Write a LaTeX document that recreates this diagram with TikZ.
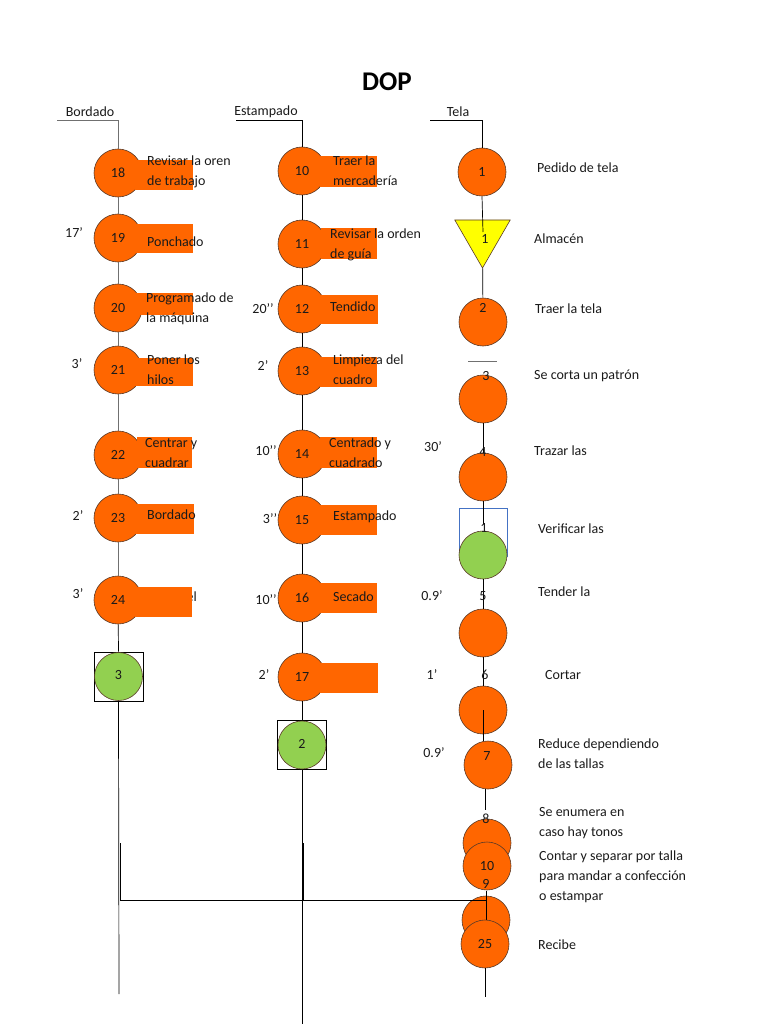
\documentclass[tikz,border=0pt]{standalone}
\usepackage{fontspec}
\setmainfont{Carlito}
\usetikzlibrary{shapes.geometric}
\definecolor{opfill}{HTML}{FF6600}
\definecolor{opline}{HTML}{5A3A28}
\definecolor{inspfill}{HTML}{92D050}
\definecolor{storefill}{HTML}{FFFF00}
\definecolor{boxblue}{HTML}{4472C4}
\definecolor{lgray}{HTML}{707070}
\definecolor{txt}{HTML}{1A1A1A}
\begin{document}
\begin{tikzpicture}[x=1pt,y=-1pt,
  op/.style={circle,draw=opline,fill=opfill,line width=0.6pt,minimum size=48pt,inner sep=0pt,text=txt,font=\fontsize{14}{16}\selectfont},
  insp/.style={op,fill=inspfill},
  sqbox/.style={rectangle,draw=black,line width=0.6pt,minimum size=49pt,inner sep=0pt},
  store/.style={regular polygon,regular polygon sides=3,shape border rotate=180,draw=opline,fill=storefill,line width=0.6pt,minimum size=64pt,inner sep=0pt},
  lbl/.style={anchor=west,align=left,inner sep=0pt,text=txt,font=\fontsize{14}{20}\selectfont},
  num/.style={inner sep=0pt,text=txt,font=\fontsize{14}{16}\selectfont},
  tm/.style={inner sep=0pt,text=txt,font=\fontsize{14}{16}\selectfont},
  hdr/.style={inner sep=0pt,text=txt,font=\fontsize{14}{16}\selectfont},
  bar/.style={fill=opfill},
  conn/.style={draw=black,line width=0.7pt},
  gconn/.style={draw=lgray,line width=0.7pt}]
\useasboundingbox (0,0) rectangle (768,1024);

% title
\node[font=\bfseries\fontsize{27}{32}\selectfont,text=black] (title) at (387,82) {DOP};

% headers
\node[hdr] (hb) at (90,112) {Bordado};
\node[hdr] (he) at (266,112) {Estampado};
\node[hdr] (ht) at (458,112) {Tela};
\coordinate (hbl) at (57,120);
\coordinate (hel) at (236,120);
\coordinate (htl) at (430,120);

% ---------------- Bordado ----------------
\node[op] (b18) at (118,173) {18};
\node[op] (b19) at (118,238) {19};
\node[op] (b20) at (118,308) {20};
\node[op] (b21) at (118,370) {21};
\node[op] (b22) at (118,455) {22};
\node[op] (b23) at (118,518) {23};
\node[op] (b24) at (118,600) {24};
\node[sqbox] (b3box) at (118.5,676.5) {};
\node[insp] (b3) at (118.5,676.5) {\raisebox{4pt}{3}};

\draw[gconn] (hbl) -| (b18.north);
\draw[gconn] (b18) -- (b19);
\draw[gconn] (b19) -- (b20);
\draw[gconn] (b20) -- (b21);
\draw[gconn] (b21) -- (b22);
\draw[gconn] (b22) -- (b23);
\draw[gconn] (b23) -- (b24);
\draw[conn] (b24) -- (b3box.north);

\node[lbl,anchor=east] (b24txt) at (197,597) {el};

\fill[bar] (135,160) rectangle (193,190);
\fill[bar] (135,224) rectangle (193,253);
\fill[bar] (135,293) rectangle (193,315);
\fill[bar] (135,358) rectangle (193,386);
\fill[bar] (137,437) rectangle (192,468);
\fill[bar] (135,504) rectangle (194,534);
\fill[bar] (135,587) rectangle (192,617);

\node[lbl] (b18txt) at (147,172) {Revisar la oren\\de trabajo};
\node[lbl] (b19txt) at (147,242) {Ponchado};
\node[lbl] (b20txt) at (146,309) {Programado de\\la máquina};
\node[lbl] (b21txt) at (147,370) {Poner los\\hilos};
\node[lbl] (b22txt) at (145,453) {Centrar y\\cuadrar};
\node[lbl] (b23txt) at (147,515) {Bordado};

\node[tm] (tb19) at (74,233) {17’};
\node[tm] (tb21) at (77,364) {3’};
\node[tm] (tb23) at (78,516) {2’};
\node[tm] (tb24) at (78,594) {3’};

% ---------------- Estampado ----------------
\node[op] (e10) at (302,171) {10};
\node[op] (e11) at (302,244) {11};
\node[op] (e12) at (302,309) {12};
\node[op] (e13) at (302,371) {13};
\node[op] (e14) at (302,454) {14};
\node[op] (e15) at (302,520) {15};
\node[op] (e16) at (302,598) {16};
\node[op] (e17) at (302,677) {17};
\node[sqbox] (e2box) at (302,745) {};
\node[insp] (e2) at (302,745) {\raisebox{3pt}{2}};

\draw[conn] (hel) -| (e10.north);
\draw[conn] (e10) -- (e11);
\draw[conn] (e11) -- (e12);
\draw[conn] (e12) -- (e13);
\draw[conn] (e13) -- (e14);
\draw[conn] (e14) -- (e15);
\draw[conn] (e15) -- (e16);
\draw[conn] (e16) -- (e17);
\draw[conn] (e17) -- (e2box.north);

\fill[bar] (320,156) rectangle (377,187);
\fill[bar] (321,228) rectangle (377,259);
\fill[bar] (320,295) rectangle (378,324);
\fill[bar] (320,357) rectangle (377,387);
\fill[bar] (320,437) rectangle (377,468);
\fill[bar] (320,505) rectangle (377,535);
\fill[bar] (320,583) rectangle (377,613);
\fill[bar] (320,663) rectangle (378,693);

\node[lbl] (e10txt) at (333,171) {Traer la\\mercadería};
\node[lbl] (e11txt) at (330,245) {Revisar la orden\\de guía};
\node[lbl] (e12txt) at (330,307) {Tendido};
\node[lbl] (e13txt) at (333,370) {Limpieza del\\cuadro};
\node[lbl] (e14txt) at (329,453) {Centrado y\\cuadrado};
\node[lbl] (e15txt) at (333,517) {Estampado};
\node[lbl] (e16txt) at (333,597) {Secado};

\node[tm] (te12) at (263,309) {20’’};
\node[tm] (te13) at (263,366) {2’};
\node[tm] (te14) at (266,451) {10’’};
\node[tm] (te15) at (270,519) {3’’};
\node[tm] (te16) at (266,600) {10’’};
\node[tm] (te17) at (264,675) {2’};

% ---------------- Tela ----------------
\node[op] (t1) at (482,172) {1};
\draw[conn] (htl) -| (t1.north);
\node[store] (ttri) at (482.5,236) {};
\coordinate (trimid) at (483,232);
\draw[conn] (t1.south) -- (trimid);
\node[op] (t2) at (483,322) {};
\draw[conn] (ttri) -- (t2);
\coordinate (sepL) at (468,361);
\coordinate (sepR) at (497,361);
\draw[lgray,line width=0.7pt] (sepL) -- (sepR);
\node[op] (t3) at (483,399) {};
\node[op] (t4) at (483,477) {};
\draw[conn] (t3) -- (t4);
\draw[boxblue,line width=0.6pt] (459,508) rectangle (507,556);
\coordinate (tvone) at (483,524);
\draw[conn] (t4.south) -- (tvone);
\node[insp] (tv) at (483,555) {};
\node[op] (t5) at (483,633) {};
\draw[conn] (tv) -- (t5);
\node[op] (t6) at (483,710) {};
\draw[conn] (t5) -- (t6);
\node[op] (t7) at (488,765) {};
\draw[conn] (t6.center) -- (t6.center |- t7.north);
\coordinate (t7end) at (485,810);
\draw[conn] (t7end |- t7.south) -- (t7end);
\node[op] (t8) at (487,843) {};
\node[op] (t10) at (487,866) {10};
\node[op] (t9) at (486,920) {};
\coordinate (ninetop) at (486,891);
\draw[conn] (ninetop) -- (t9.center);

% bottom joins
\coordinate (bjoin) at (120,900);
\coordinate (ninemid) at (486,900);
\coordinate (bdup) at (120,843);
\coordinate (bend) at (119,994);
\coordinate (ejoin) at (303,900);
\coordinate (edup) at (303,843);
\coordinate (eend) at (302,1024);
\draw[conn] (b3box.south) -- (bend);
\draw[conn] (bdup) -- (bjoin);
\draw[conn] (e2box.south) -- (eend);
\draw[conn] (edup) -- (ejoin);
\draw[conn] (bjoin) -- (ninemid);

\node[op] (t25) at (485,944) {25};
\coordinate (tend) at (485,997);
\draw[conn] (t25.south) -- (tend);

% numbers in Tela column
\node[num] (n1tri) at (485,239) {1};
\node[num] (n2) at (483,308) {2};
\node[num] (n3) at (486,376) {3};
\node[num] (n4) at (483,452) {4};
\node[num] (n1v) at (484,528) {1};
\node[num] (n5) at (483,596) {5};
\node[num] (n6) at (485,675) {6};
\node[num] (n7) at (487,756) {7};
\node[num] (n8) at (486,819) {8};
\node[num] (n9) at (486,884) {9};

% labels Tela
\node[lbl] (l1) at (537,168) {Pedido de tela};
\node[lbl] (l2) at (534,239) {Almacén};
\node[lbl] (l3) at (535,309) {Traer la tela};
\node[lbl] (l4) at (534,376) {Se corta un patrón};
\node[lbl] (l5) at (534,451) {Trazar las};
\node[lbl] (l6) at (538,529) {Verificar las};
\node[lbl] (l7) at (538,592) {Tender la};
\node[lbl] (l8) at (545,675) {Cortar};
\node[lbl] (l9) at (538,754) {Reduce dependiendo\\de las tallas};
\node[lbl] (l10) at (539,823) {Se enumera en\\caso hay tonos};
\node[lbl] (l11) at (539,877) {Contar y separar por talla\\para mandar a confección\\o estampar};
\node[lbl] (l12) at (538,945) {Recibe};

\node[tm] (tt4) at (433,447) {30’};
\node[tm] (tt5) at (432,596) {0.9’};
\node[tm] (tt6) at (432,675) {1’};
\node[tm] (tt7) at (434,753) {0.9’};
\end{tikzpicture}
\end{document}
